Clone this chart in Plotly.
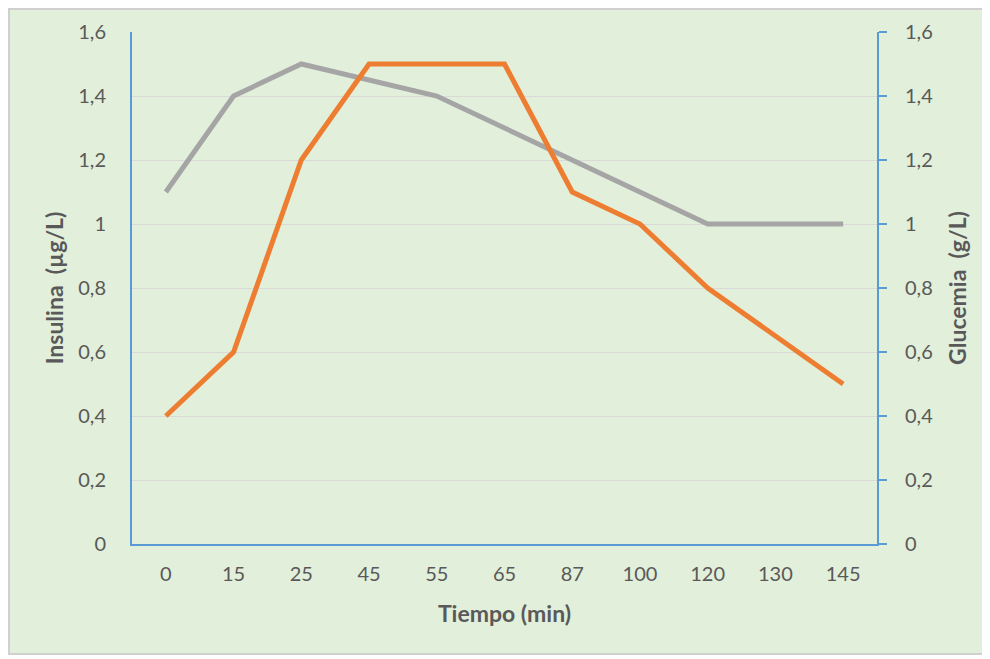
import plotly.graph_objects as go

tiempo = ["0", "15", "25", "45", "55", "65", "87", "100", "120", "130", "145"]
insulina = [1.1, 1.4, 1.5, 1.45, 1.4, 1.3, 1.2, 1.1, 1.0, 1.0, 1.0]
glucemia = [0.4, 0.6, 1.2, 1.5, 1.5, 1.5, 1.1, 1.0, 0.8, 0.65, 0.5]

FONT = "Lato"
TXT = "#595959"
BLUE = "#5B9BD5"
BG = "#E2EFDA"

fig = go.Figure()
fig.add_trace(go.Scatter(x=tiempo, y=insulina, mode="lines", name="Insulina",
                         line=dict(color="#A5A5A5", width=5), yaxis="y"))
fig.add_trace(go.Scatter(x=tiempo, y=glucemia, mode="lines", name="Glucemia",
                         line=dict(color="#ED7D31", width=5), yaxis="y2"))

# page body has an 8px margin; figure spans screen 8..985 x 8..655
W, H = 977, 647
L, R, T, B = 124, 108, 24, 111
pw, ph = W - L - R, H - T - B

def px(x):
    return (x - L) / pw

def py(y):
    return (H - B - y) / ph

fig.add_shape(type="rect", xref="paper", yref="paper",
              x0=px(1), x1=px(W - 1), y0=py(H - 1), y1=py(1),
              fillcolor="rgba(0,0,0,0)", line=dict(color="#D0D0D0", width=2), layer="below")

fig.update_layout(
    width=W, height=H,
    margin=dict(l=L, r=R, t=T, b=B, autoexpand=False),
    paper_bgcolor=BG, plot_bgcolor=BG,
    separators=", ",
    showlegend=False,
    font=dict(family=FONT, size=20, color=TXT),
    xaxis=dict(type="category", range=[-0.5, len(tiempo) - 0.5], automargin=False,
               showline=True, linecolor=BLUE, linewidth=2,
               showgrid=False, ticks="", ticklabelstandoff=11,
               title=dict(text="<b>Tiempo (min)</b>", standoff=22,
                          font=dict(size=23, color=TXT))),
    yaxis=dict(range=[0, 1.6], dtick=0.2, automargin=False,
               showline=True, linecolor=BLUE, linewidth=2,
               showgrid=True, gridcolor="#D9D9D9", gridwidth=1, zeroline=False,
               ticks="", ticklabelstandoff=20,
               title=dict(text="<b>Insulina  (µg/L)</b>", standoff=8,
                          font=dict(size=23, color=TXT))),
    yaxis2=dict(range=[0, 1.6], dtick=0.2, overlaying="y", side="right", automargin=False,
                showline=True, linecolor=BLUE, linewidth=2,
                showgrid=False, zeroline=False,
                ticks="outside", ticklen=8, tickcolor=BLUE, tickwidth=2,
                ticklabelstandoff=14,
                title=dict(text="<b>Glucemia  (g/L)</b>", standoff=18,
                           font=dict(size=23, color=TXT))),
)

fig.write_html("out.html")
